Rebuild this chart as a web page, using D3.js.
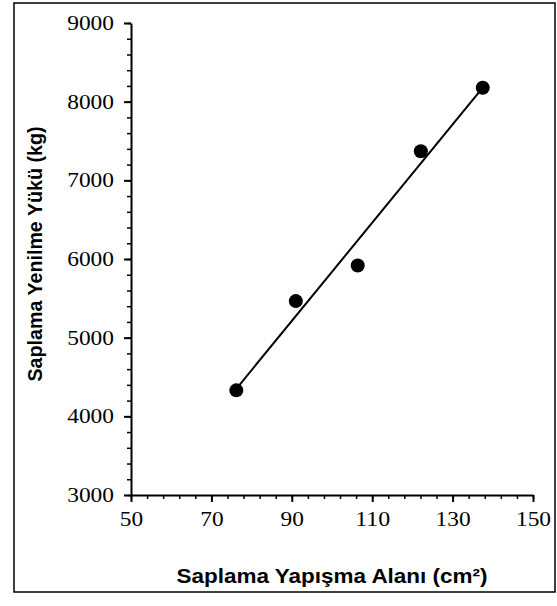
<!DOCTYPE html>
<html>
<head>
  <script src="https://d3js.org/d3.v7.min.js"></script>
  <style>
    body { margin: 0; background: #fff; }
    .tick text { font-family: "Liberation Serif", serif; font-size: 20px; fill: #000; }
    .axis path, .axis line { stroke: #000; }
    .title { font-family: "Liberation Sans", Arial, sans-serif; font-weight: bold; font-size: 21px; fill: #000; }
  </style>
</head>
<body>
  <svg id="chart" width="557" height="606"></svg>
  <script>
    // Yapisma alani (cm2) ve yenilme yuku (kg)
    var areas = [76.2, 91.0, 106.4, 122.1, 137.5];
    var loads = [4330, 5465, 5917, 7370, 8177];
    var xTicks = [50, 70, 90, 110, 130, 150];
    var yTicks = [3000, 4000, 5000, 6000, 7000, 8000, 9000];

    var svg = d3.select('#chart');
    var plotL = 131, plotR = 533, plotT = 23, plotB = 495;

    var x = d3.scaleLinear().domain([50, 150]).range([plotL, plotR]);
    var y = d3.scaleLinear().domain([3000, 9000]).range([plotB, plotT]);

    // outer frame
    svg.append('rect')
      .attr('x', 14).attr('y', 3)
      .attr('width', 541).attr('height', 589)
      .attr('fill', 'none').attr('stroke', '#000').attr('stroke-width', 1.5);

    // minor ticks (5 divisions per major step)
    svg.append('g')
      .attr('class', 'axis')
      .attr('transform', 'translate(0,' + plotB + ')')
      .call(d3.axisBottom(x).tickValues(d3.range(50, 151, 4)).tickSize(4).tickFormat(''))
      .call(function (g) { g.select('.domain').remove(); })
      .selectAll('line').attr('stroke-width', 1.5);
    svg.append('g')
      .attr('class', 'axis')
      .attr('transform', 'translate(' + plotL + ',0)')
      .call(d3.axisLeft(y).tickValues(d3.range(3000, 9001, 200)).tickSize(4).tickFormat(''))
      .call(function (g) { g.select('.domain').remove(); })
      .selectAll('line').attr('stroke-width', 1.5);

    // major axes
    var xAxis = svg.append('g')
      .attr('class', 'axis')
      .attr('transform', 'translate(0,' + plotB + ')')
      .call(d3.axisBottom(x).tickValues(xTicks).tickFormat(d3.format('d'))
        .tickSize(7).tickSizeOuter(0).tickPadding(10));
    var yAxis = svg.append('g')
      .attr('class', 'axis')
      .attr('transform', 'translate(' + plotL + ',0)')
      .call(d3.axisLeft(y).tickValues(yTicks).tickFormat(d3.format('d'))
        .tickSize(7).tickSizeOuter(0).tickPadding(10));

    [xAxis, yAxis].forEach(function (g) {
      g.select('.domain').attr('stroke-width', 2);
      g.selectAll('.tick line').attr('stroke-width', 2);
      g.selectAll('.tick text')
        .attr('textLength', function (d) { return String(d).length * 11.7; })
        .attr('lengthAdjust', 'spacingAndGlyphs');
    });

    // least-squares trend line
    var mx = d3.mean(areas), my = d3.mean(loads);
    var sxy = d3.sum(areas, function (a, i) { return (a - mx) * (loads[i] - my); });
    var sxx = d3.sum(areas, function (a) { return (a - mx) * (a - mx); });
    var slope = sxy / sxx, icpt = my - slope * mx;
    var xr = d3.extent(areas);
    svg.append('path')
      .datum(xr)
      .attr('fill', 'none').attr('stroke', '#000').attr('stroke-width', 2)
      .attr('d', d3.line()
        .x(function (d) { return x(d); })
        .y(function (d) { return y(icpt + slope * d); }));

    svg.selectAll('circle.pt')
      .data(areas)
      .enter().append('circle')
      .attr('class', 'pt')
      .attr('cx', function (d) { return x(d); })
      .attr('cy', function (d, i) { return y(loads[i]); })
      .attr('r', 7)
      .attr('fill', '#000');

    // axis titles
    svg.append('text')
      .attr('class', 'title')
      .attr('x', 332).attr('y', 583)
      .attr('text-anchor', 'middle')
      .attr('textLength', 311).attr('lengthAdjust', 'spacingAndGlyphs')
      .text('Saplama Yapışma Alanı (cm²)');
    svg.append('text')
      .attr('class', 'title')
      .attr('transform', 'translate(42,254) rotate(-90)')
      .attr('text-anchor', 'middle')
      .attr('textLength', 255).attr('lengthAdjust', 'spacingAndGlyphs')
      .text('Saplama Yenilme Yükü (kg)');
  </script>
</body>
</html>
